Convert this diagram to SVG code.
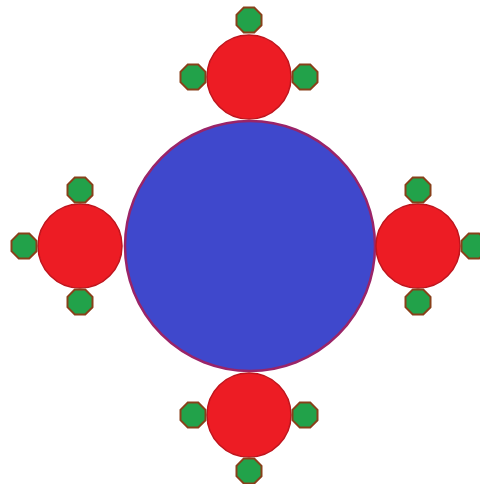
<svg xmlns="http://www.w3.org/2000/svg" width="480" height="484" viewBox="0 0 480 484">
<style>
.hub{fill:#3F48CC;stroke:#9A2468;stroke-width:2.5}
.sat{fill:#ED1C24;stroke:#C0141C;stroke-width:1.5}
.leaf{fill:#22A24A;stroke:#88401A;stroke-width:2}
</style>
<defs>
<polygon id="oct" points="12.5,5.2 5.2,12.5 -5.2,12.5 -12.5,5.2 -12.5,-5.2 -5.2,-12.5 5.2,-12.5 12.5,-5.2"/>
</defs>
<rect width="480" height="484" fill="#ffffff"/>
<g id="connectors"></g>
<g id="hub"><circle class="hub" cx="250" cy="246" r="125"/></g>
<g id="top">
<circle class="sat" cx="249" cy="77" r="42"/>
<use href="#oct" class="leaf" x="249" y="20"/>
<use href="#oct" class="leaf" x="193" y="77"/>
<use href="#oct" class="leaf" x="305" y="77"/>
</g>
<g id="left">
<circle class="sat" cx="80" cy="246" r="42"/>
<use href="#oct" class="leaf" x="80" y="190"/>
<use href="#oct" class="leaf" x="24" y="246"/>
<use href="#oct" class="leaf" x="80" y="302"/>
</g>
<g id="right">
<circle class="sat" cx="418" cy="246" r="42"/>
<use href="#oct" class="leaf" x="418" y="190"/>
<use href="#oct" class="leaf" x="474" y="246"/>
<use href="#oct" class="leaf" x="418" y="302"/>
</g>
<g id="bottom">
<circle class="sat" cx="249" cy="415" r="42"/>
<use href="#oct" class="leaf" x="193" y="415"/>
<use href="#oct" class="leaf" x="305" y="415"/>
<use href="#oct" class="leaf" x="249" y="471"/>
</g>
</svg>
